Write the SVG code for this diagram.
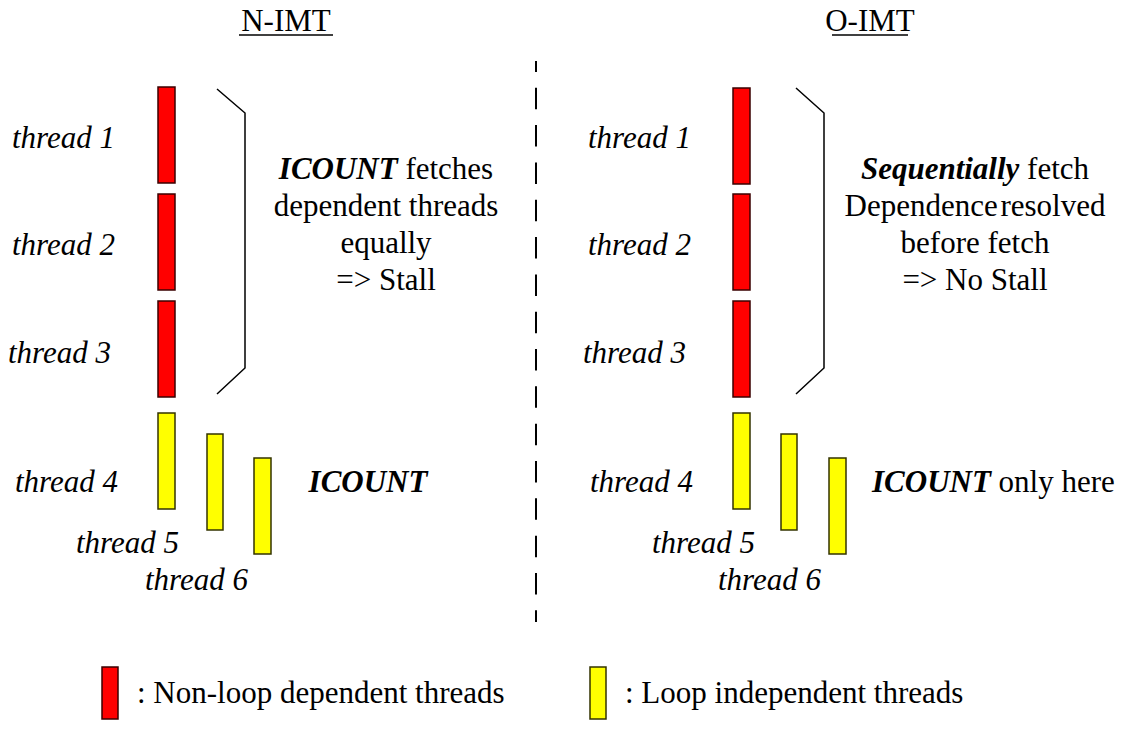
<svg xmlns="http://www.w3.org/2000/svg" width="1135" height="748" viewBox="0 0 1135 748">
<style>
text{font-family:"Liberation Serif","Times New Roman",Times,serif;font-size:31px;fill:#000}
.it{font-style:italic}
.bi{font-style:italic;font-weight:bold}
.red{fill:#ff0000;stroke:#3a0000;stroke-width:1.5}
.yel{fill:#ffff00;stroke:#333300;stroke-width:1.5}
.br{fill:none;stroke:#000;stroke-width:1.5}
.c{text-anchor:middle}
</style>
<rect width="1135" height="748" fill="#fff"/>
<g id="titles">
<text x="286" y="31" class="c">N-IMT</text>
<line x1="239" y1="35" x2="333" y2="35" stroke="#000" stroke-width="1.5"/>
<text x="870" y="31" class="c">O-IMT</text>
<line x1="832" y1="35" x2="908" y2="35" stroke="#000" stroke-width="1.5"/>
</g>
<g id="divider">
<line x1="536" y1="61" x2="536" y2="622" stroke="#000" stroke-width="2" stroke-dasharray="21.5 15.83" stroke-dashoffset="10.6"/>
</g>
<g id="left-threads">
<g id="n-t1"><rect class="red" x="158" y="87" width="17" height="96"/><text class="it" x="12" y="148">thread 1</text></g>
<g id="n-t2"><rect class="red" x="158" y="194" width="17" height="96"/><text class="it" x="12" y="255">thread 2</text></g>
<g id="n-t3"><rect class="red" x="158" y="301" width="17" height="96"/><text class="it" x="8" y="363">thread 3</text></g>
<g id="n-t4"><rect class="yel" x="158" y="413" width="17" height="96"/><text class="it" x="15" y="492">thread 4</text></g>
<g id="n-t5"><rect class="yel" x="207" y="434" width="16" height="96"/><text class="it" x="76" y="553">thread 5</text></g>
<g id="n-t6"><rect class="yel" x="254" y="458" width="17" height="96"/><text class="it" x="145" y="590">thread 6</text></g>
</g>
<g id="right-threads">
<g id="o-t1"><rect class="red" x="733" y="88" width="17" height="96"/><text class="it" x="588" y="148">thread 1</text></g>
<g id="o-t2"><rect class="red" x="733" y="194" width="17" height="96"/><text class="it" x="588" y="255">thread 2</text></g>
<g id="o-t3"><rect class="red" x="733" y="301" width="17" height="96"/><text class="it" x="583" y="363">thread 3</text></g>
<g id="o-t4"><rect class="yel" x="733" y="413" width="17" height="96"/><text class="it" x="590" y="492">thread 4</text></g>
<g id="o-t5"><rect class="yel" x="781" y="434" width="16" height="96"/><text class="it" x="652" y="553">thread 5</text></g>
<g id="o-t6"><rect class="yel" x="829" y="458" width="17" height="96"/><text class="it" x="718" y="590">thread 6</text></g>
</g>
<g id="brackets">
<polyline class="br" points="217,89 245,113 245,368 217,394"/>
<polyline class="br" points="796,88 824,113 824,368 796,394"/>
</g>
<g id="left-note">
<text class="c" x="386" y="179"><tspan class="bi">ICOUNT</tspan> fetches</text>
<text class="c" x="386" y="216">dependent threads</text>
<text class="c" x="386" y="253">equally</text>
<text class="c" x="386" y="290">=&gt; Stall</text>
<text class="bi c" x="368" y="492">ICOUNT</text>
</g>
<g id="right-note">
<text class="c" x="975" y="179"><tspan class="bi">Sequentially</tspan> fetch</text>
<text class="c" x="975" y="216" word-spacing="-5">Dependence resolved</text>
<text class="c" x="975" y="253">before fetch</text>
<text class="c" x="975" y="290">=&gt; No Stall</text>
<text x="872" y="492"><tspan class="bi">ICOUNT</tspan> only here</text>
</g>
<g id="legend">
<g id="leg-red"><rect class="red" x="102" y="667" width="16" height="52"/><text x="137" y="703">: Non-loop dependent threads</text></g>
<g id="leg-yel"><rect class="yel" x="590" y="667" width="16" height="52"/><text x="625" y="703">: Loop independent threads</text></g>
</g>
</svg>
